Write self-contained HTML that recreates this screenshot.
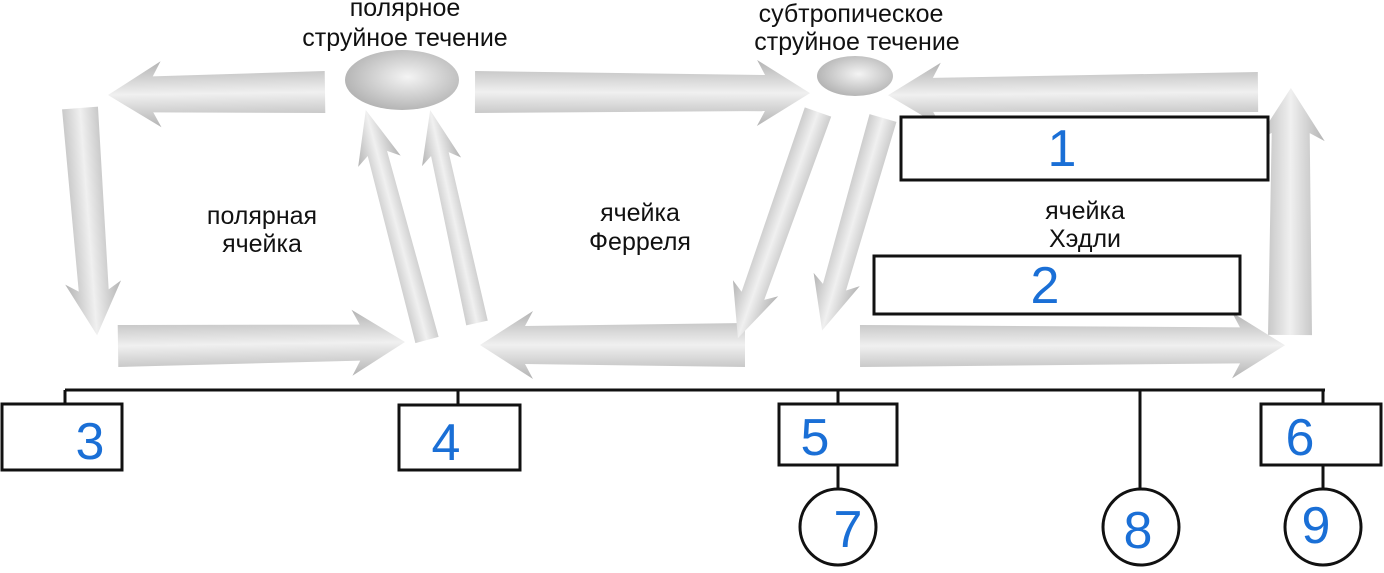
<!DOCTYPE html>
<html><head><meta charset="utf-8"><style>
html,body{margin:0;padding:0;background:#fff;width:1384px;height:573px;overflow:hidden}
svg{display:block}
.t{font-family:"Liberation Sans",sans-serif;font-size:25px;fill:#111;text-anchor:middle}
.n{font-family:"Liberation Sans",sans-serif;font-size:52px;fill:#1a6fd6;text-anchor:middle}
</style></head><body>
<svg width="1384" height="573" viewBox="0 0 1384 573">
<defs>
<linearGradient id="g" x1="0" y1="0" x2="0" y2="1">
<stop offset="0" stop-color="#b3b3b3"/><stop offset="0.5" stop-color="#f0f0f0"/><stop offset="1" stop-color="#b3b3b3"/>
</linearGradient>
<radialGradient id="r" cx="0.55" cy="0.45" r="0.6">
<stop offset="0" stop-color="#f4f4f4"/><stop offset="1" stop-color="#b0b0b0"/>
</radialGradient>
</defs>
<g fill="url(#g)">
<path d="M0,-21 L172,-18 L164,-33 L217,0 L164,33 L172,18 L0,21Z" transform="translate(325,92) rotate(179.2)"/>
<path d="M0,-18 L183,-15 L175,-28 L228,0 L175,28 L183,15 L0,18Z" transform="translate(80,108) rotate(85.7)"/>
<path d="M0,-21 L242,-18 L234,-33 L287,0 L234,33 L242,18 L0,21Z" transform="translate(118,346) rotate(-0.8)"/>
<path d="M0,-12 L193,-10 L185,-22 L238,0 L185,22 L193,10 L0,12Z" transform="translate(427,340) rotate(-104.9)"/>
<path d="M0,-11 L173,-9 L165,-20 L218,0 L165,20 L173,9 L0,11Z" transform="translate(477,323) rotate(-102.4)"/>
<path d="M0,-21 L290,-18 L282,-33 L335,0 L282,33 L290,18 L0,21Z" transform="translate(475,92) rotate(0.2)"/>
<path d="M0,-22 L220,-19 L212,-34 L265,0 L212,34 L220,19 L0,22Z" transform="translate(745,345) rotate(180)"/>
<path d="M0,-14 L195,-12 L187,-24 L240,0 L187,24 L195,12 L0,14Z" transform="translate(818,112) rotate(109.5)"/>
<path d="M0,-14 L176,-12 L168,-24 L221,0 L168,24 L176,12 L0,14Z" transform="translate(883,118) rotate(106)"/>
<path d="M0,-20 L325,-17 L317,-32 L370,0 L317,32 L325,17 L0,20Z" transform="translate(1258,92) rotate(179.5)"/>
<path d="M0,-22 L202,-19 L194,-34 L247,0 L194,34 L202,19 L0,22Z" transform="translate(1290,335) rotate(-89.8)"/>
<path d="M0,-21 L380,-18 L372,-33 L425,0 L372,33 L380,18 L0,21Z" transform="translate(860,346) rotate(-0.1)"/>
</g>
<ellipse cx="402" cy="80" rx="57" ry="30" fill="url(#r)"/>
<ellipse cx="855" cy="76" rx="38" ry="20" fill="url(#r)"/>
<text class="t" x="405" y="16">полярное</text>
<text class="t" x="405" y="46">струйное течение</text>
<text class="t" x="851" y="22">субтропическое</text>
<text class="t" x="857" y="50">струйное течение</text>
<text class="t" x="262" y="224">полярная</text>
<text class="t" x="262" y="252">ячейка</text>
<text class="t" x="640" y="221">ячейка</text>
<text class="t" x="640" y="250">Ферреля</text>
<text class="t" x="1085" y="219">ячейка</text>
<text class="t" x="1085" y="247">Хэдли</text>
<g fill="#fff" stroke="#111" stroke-width="3">
<rect x="901" y="117" width="367" height="63"/>
<rect x="874" y="256" width="366" height="58"/>
<rect x="2" y="404" width="120" height="66"/>
<rect x="399" y="405" width="121" height="65"/>
<rect x="779" y="404" width="118" height="61"/>
<rect x="1261" y="404" width="120" height="61"/>
</g>
<g stroke="#111" stroke-width="3" fill="none">
<path d="M65,390 H1325 M65,390 V404 M458,390 V405 M838,390 V404 M1140,390 V489 M1323,390 V404 M838,465 V489 M1323,465 V489"/>
</g>
<g fill="#fff" stroke="#111" stroke-width="3">
<circle cx="838" cy="527" r="38"/>
<circle cx="1141" cy="527" r="38"/>
<circle cx="1323" cy="527" r="38"/>
</g>
<text class="n" x="1062" y="166">1</text>
<text class="n" x="1045" y="303">2</text>
<text class="n" x="90" y="459">3</text>
<text class="n" x="446" y="460">4</text>
<text class="n" x="815" y="455">5</text>
<text class="n" x="1300" y="455">6</text>
<text class="n" x="848" y="547">7</text>
<text class="n" x="1138" y="548">8</text>
<text class="n" x="1316" y="543">9</text>
</svg>
</body></html>
